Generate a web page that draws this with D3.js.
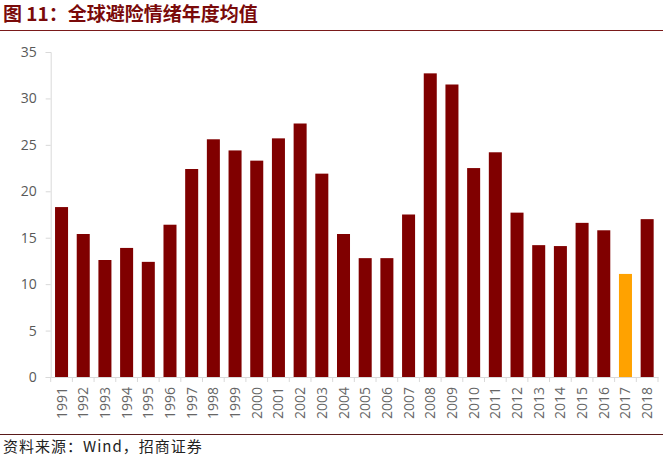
<!DOCTYPE html>
<html><head><meta charset="utf-8">
<script src="https://cdn.jsdelivr.net/npm/d3@7"></script>
<style>body{margin:0;background:#fff}svg{display:block}</style>
</head><body>
<script>
const years = ["1991","1992","1993","1994","1995","1996","1997","1998","1999","2000","2001","2002","2003","2004","2005","2006","2007","2008","2009","2010","2011","2012","2013","2014","2015","2016","2017","2018"];
const values = [18.3,15.4,12.6,13.9,12.4,16.4,22.4,25.6,24.4,23.3,25.7,27.3,21.9,15.4,12.8,12.8,17.5,32.7,31.5,22.5,24.2,17.7,14.2,14.1,16.6,15.8,11.1,17.0];
const highlightYears = ["2017"];
const yTicks = [0,5,10,15,20,25,30,35];
const title = "图 11：全球避险情绪年度均值";
const source = "资料来源：Wind，招商证券";

const W = 663, H = 456;
const svg = d3.select("body").append("svg").attr("width", W).attr("height", H);
const x = d3.scaleBand().domain(years).range([50.7, 658]).paddingInner(0.4).paddingOuter(0.2);
const y = d3.scaleLinear().domain([0, 35]).range([377, 52]);

svg.append("text").attr("x", 3).attr("y", 21).text(title)
  .attr("font-family", "Noto Sans CJK SC").attr("font-weight", "bold")
  .attr("font-size", 19).attr("fill", "#7a0a0a");
svg.append("line").attr("x1", 0).attr("x2", W).attr("y1", 30.5).attr("y2", 30.5)
  .attr("stroke", "#7a1a1a").attr("stroke-width", 1.2);

// y axis
const ya = svg.append("g").attr("transform", "translate(50.7,0)")
  .call(d3.axisLeft(y).tickValues(yTicks).tickSize(5).tickPadding(9));
ya.select(".domain").attr("stroke", "#d9d9d9");
ya.selectAll(".tick line").attr("stroke", "#d9d9d9");
ya.selectAll(".tick text").attr("font-family", "Open Sans, Liberation Sans, sans-serif")
  .attr("font-size", 14).attr("fill", "#595959");

// x axis
const xa = svg.append("g").attr("transform", "translate(0,377)")
  .call(d3.axisBottom(x).tickSize(0).tickPadding(0));
xa.select(".domain").attr("stroke", "#d9d9d9");
xa.selectAll(".tick text").attr("font-family", "Open Sans, Liberation Sans, sans-serif")
  .attr("font-size", 14).attr("fill", "#666")
  .attr("transform", "translate(5,10) rotate(-90)").attr("text-anchor", "end").attr("dy", 0).attr("y", 0);
// separators between categories
const step = x.step();
svg.append("g").selectAll("line").data(years.concat(["end"])).join("line")
  .attr("x1", (d, i) => x.range()[0] + i * step)
  .attr("x2", (d, i) => x.range()[0] + i * step)
  .attr("y1", 377).attr("y2", 382).attr("stroke", "#d9d9d9");

// bars
svg.append("g").selectAll("rect").data(years).join("rect")
  .attr("x", d => x(d)).attr("width", x.bandwidth())
  .attr("y", (d, i) => y(values[i])).attr("height", (d, i) => y(0) - y(values[i]))
  .attr("fill", d => highlightYears.includes(d) ? "#ffa200" : "#800000");

svg.append("line").attr("x1", 0).attr("x2", W).attr("y1", 434.5).attr("y2", 434.5)
  .attr("stroke", "#5a1a1a").attr("stroke-width", 1);
svg.append("text").attr("x", 3).attr("y", 452).text(source)
  .attr("font-family", "Noto Sans CJK SC").attr("font-size", 15).attr("letter-spacing", 1).attr("fill", "#222");
</script>
</body></html>
